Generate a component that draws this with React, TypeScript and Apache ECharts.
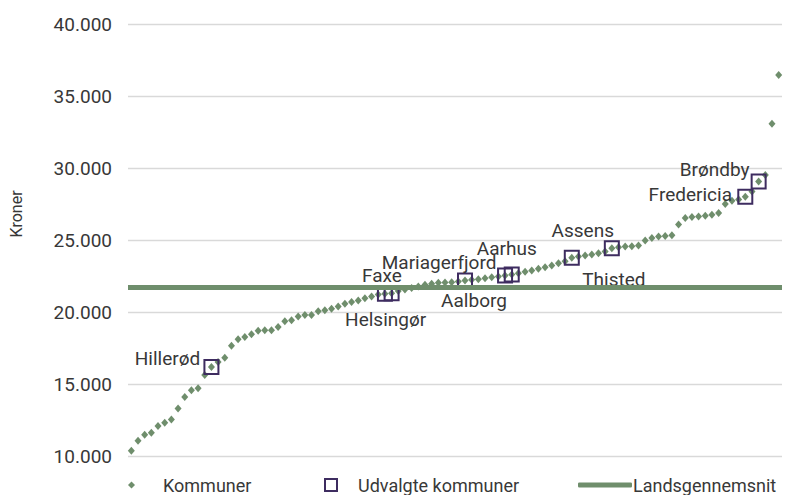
import React, { useEffect, useRef } from "react";
import * as echarts from "echarts";

// Municipalities sorted by amount (kroner), ranks 1..98
const municipalityValues: number[] = [
  10370, 11060, 11480, 11610, 12080, 12310, 12540, 13300, 14090, 14570,
  14710, 15630, 16180, 16530, 16830, 17660, 18100, 18260, 18460, 18690,
  18730, 18730, 18960, 19350, 19420, 19680, 19800, 19800, 20050, 20130,
  20230, 20390, 20570, 20690, 20800, 20960, 21080, 21220, 21270, 21310,
  21450, 21560, 21660, 21770, 21890, 21960, 22030, 22050, 22070, 22120,
  22190, 22240, 22280, 22350, 22420, 22470, 22530, 22600, 22690, 22790,
  22880, 23000, 23110, 23230, 23390, 23520, 23760, 23850, 23920, 23990,
  24080, 24200, 24420, 24500, 24540, 24560, 24610, 24960, 25140, 25240,
  25280, 25330, 26070, 26530, 26600, 26640, 26690, 26760, 26870, 27500,
  27730, 27820, 28000, 28370, 29070, 29510, 33080, 36450,
];

const rankCategories: string[] = municipalityValues.map((_, i) => String(i + 1));

const selectedNames: string[] = [
  "Hillerød", "Faxe", "Helsingør", "Aalborg", "Mariagerfjord",
  "Aarhus", "Assens", "Thisted", "Fredericia", "Brøndby",
];
const selectedRanks: number[] = [12, 38, 39, 50, 56, 57, 66, 72, 92, 94];

const nationalAverage = 21700;

const yTicks = { min: 10000, max: 40000, interval: 5000 };

const yAxisTitle = "Kroner";
const legendNames = ["Kommuner", "Udvalgte kommuner", "Landsgennemsnit"];

// label placement (pixel offsets from the marker centre)
const labelOffsets: Record<string, [number, number]> = {
  "Hillerød": [-44, -9],
  "Faxe": [-3, -18],
  "Helsingør": [-6, 26],
  "Aalborg": [9, 20],
  "Mariagerfjord": [-66, -13],
  "Aarhus": [-5, -26],
  "Assens": [11, -27],
  "Thisted": [2, 31],
  "Fredericia": [-55, -2],
  "Brøndby": [-44, -12],
};

const GREEN = "#6f8e6c";
const PURPLE = "#3e2c60";
const TEXT = "#383838";
const FONT = 'Roboto, "Noto Sans", sans-serif';

export default function App() {
  const ref = useRef<HTMLDivElement>(null);
  useEffect(() => {
    if (!ref.current) return;
    const chart = echarts.init(ref.current, undefined, { renderer: "svg" });
    const fmt = (v: number) => String(v).replace(/\B(?=(\d{3})+(?!\d))/g, ".");
    const selectedData = selectedRanks.map((r, k) => ({
      name: selectedNames[k],
      value: [r, municipalityValues[r]],
      label: { offset: labelOffsets[selectedNames[k]] },
    }));
    const legendBase = {
      orient: "horizontal",
      top: 476,
      padding: 0,
      textStyle: { fontSize: 18, color: TEXT, fontFamily: FONT },
      selectedMode: false,
    };
    chart.setOption({
      animation: false,
      textStyle: { fontFamily: FONT },
      grid: { left: 128, right: 8, top: 24, bottom: 39 },
      legend: [
        {
          ...legendBase,
          left: 128,
          itemWidth: 7,
          itemHeight: 7,
          data: [legendNames[0]],
          textStyle: { ...legendBase.textStyle, padding: [0, 0, 0, 23] },
        },
        {
          ...legendBase,
          left: 324,
          itemWidth: 12,
          itemHeight: 12,
          data: [legendNames[1]],
          textStyle: { ...legendBase.textStyle, padding: [0, 0, 0, 16] },
        },
        {
          ...legendBase,
          left: 578,
          itemWidth: 54,
          itemHeight: 5,
          data: [{ name: legendNames[2], icon: "roundRect" }],
          textStyle: { ...legendBase.textStyle, padding: [0, 0, 0, -4] },
        },
      ],
      graphic: [
        {
          type: "text",
          x: 16,
          y: 214,
          rotation: Math.PI / 2,
          style: {
            text: yAxisTitle,
            fontSize: 16,
            fill: TEXT,
            fontFamily: FONT,
            align: "center",
            verticalAlign: "middle",
          },
        },
      ],
      xAxis: {
        type: "category",
        data: rankCategories,
        boundaryGap: true,
        axisLine: { show: false },
        axisTick: { show: false },
        axisLabel: { show: false },
        splitLine: { show: false },
      },
      yAxis: {
        type: "value",
        min: yTicks.min,
        max: yTicks.max,
        interval: yTicks.interval,
        axisLine: { show: false },
        axisTick: { show: false },
        axisLabel: {
          formatter: fmt,
          fontSize: 19,
          color: TEXT,
          margin: 16,
          fontFamily: FONT,
        },
        splitLine: { lineStyle: { color: "#d9d9d9", width: 1.3 } },
      },
      series: [
        {
          name: legendNames[0],
          type: "scatter",
          symbol: "diamond",
          symbolSize: [7, 8],
          itemStyle: { color: GREEN, opacity: 1 },
          data: municipalityValues,
          z: 2,
        },
        {
          name: legendNames[2],
          type: "line",
          data: [],
          lineStyle: { color: GREEN, width: 5 },
          itemStyle: { color: GREEN },
          markLine: {
            silent: true,
            symbol: ["none", "none"],
            label: { show: false },
            lineStyle: { color: GREEN, width: 5, type: "solid" },
            data: [{ yAxis: nationalAverage }],
          },
          z: 3,
        },
        {
          name: legendNames[1],
          type: "scatter",
          symbol: "rect",
          symbolSize: 14,
          itemStyle: {
            color: "rgba(0,0,0,0)",
            borderColor: PURPLE,
            borderWidth: 2,
            opacity: 1,
          },
          label: {
            show: true,
            position: "inside",
            formatter: "{b}",
            fontSize: 19,
            color: TEXT,
            fontFamily: FONT,
          },
          data: selectedData,
          z: 4,
        },
      ],
    });
    return () => chart.dispose();
  }, []);
  return (
    <div
      ref={ref}
      style={{ position: "absolute", left: 0, top: 0, width: 790, height: 495 }}
    />
  );
}
